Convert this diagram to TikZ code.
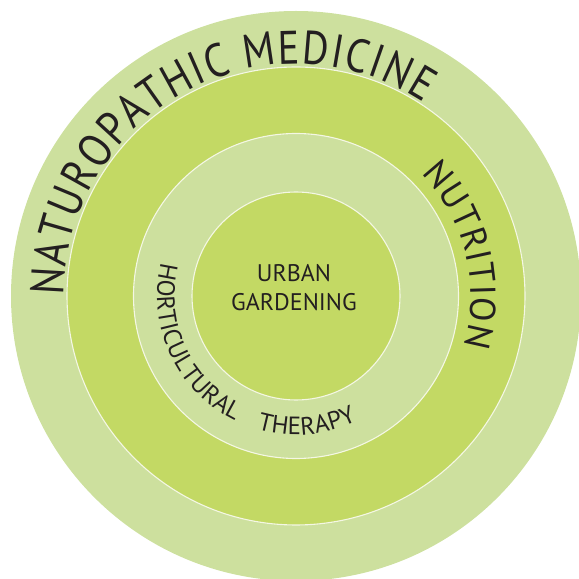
\documentclass[tikz,border=0pt]{standalone}
\usepackage{fontspec}
\setmainfont{PT Sans}
\newfontfamily\narrowsans[FakeStretch=0.86]{PT Sans}
\usetikzlibrary{decorations.text}
\definecolor{lightg}{HTML}{CDE09E}
\definecolor{darkg}{HTML}{C3D964}
\definecolor{sepline}{HTML}{F4F7E4}
\definecolor{txt}{HTML}{231F20}
\newcommand\natfont{\narrowsans\fontsize{47}{50}\selectfont\color{txt}}
\newcommand\nutfont{\fontsize{36}{40}\selectfont\color{txt}}
\newcommand\hortfont{\fontsize{25}{30}\selectfont\color{txt}}
\begin{document}
\begin{tikzpicture}[x=1pt,y=1pt,
  ring/.style={draw=sepline, line width=1.1pt},
  arctext/.style={decorate, decoration={text along path, text={#1}, text align=fit to path}},
  centretext/.style={text=txt, font=\fontsize{24}{29}\selectfont, inner sep=0pt, anchor=base}]
\useasboundingbox (0,0) rectangle (579,579);
\clip (0,0) rectangle (579,579);
\coordinate (C) at (296,283);
\fill[lightg] (C) circle[radius=285];
\fill[darkg] (C) circle[radius=229];
\fill[lightg] (C) circle[radius=162.5];
\fill[darkg] (C) circle[radius=104];
\draw[ring] (C) circle[radius=229];
\draw[ring] (C) circle[radius=162.5];
\draw[ring] (C) circle[radius=104];
% curved labels
\path[arctext={|\natfont|NATUROPATHIC MEDICINE}]
  ([shift={(180:232)}]C) arc[start angle=180, end angle=56.5, radius=232];
\path[arctext={|\nutfont|NUTRITION}]
  ([shift={(44.5:175)}]C) arc[start angle=44.5, end angle=-16.6, radius=175];
\path[arctext={|\hortfont|HORTICULTURAL}]
  ([shift={(166:139)}]C) arc[start angle=166, end angle=244, radius=139];
\path[arctext={|\hortfont|THERAPY}]
  ([shift={(253.8:139)}]C) arc[start angle=253.8, end angle=296, radius=139];
% centre
\node[centretext] (urban) at (294,297) {URBAN};
\node[centretext] (gardening) at (294,268) {GARDENING};
\end{tikzpicture}
\end{document}
